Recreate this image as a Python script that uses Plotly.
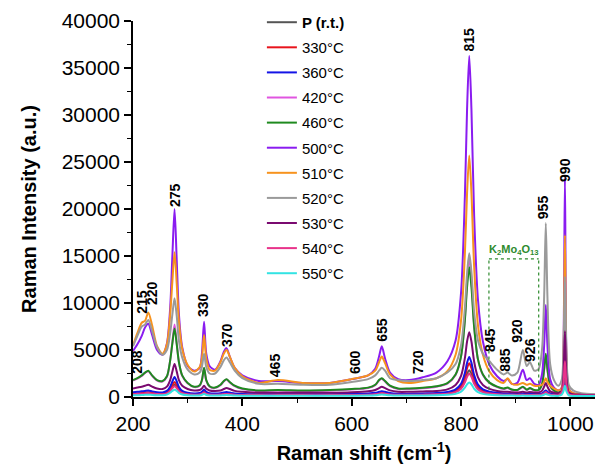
import plotly.graph_objects as go

# ---- data ----
wavenumber = [200, 208, 216, 222, 228, 235, 244, 254, 262, 268,
              272, 276, 280, 284, 290, 300, 312, 322, 326, 330,
              334, 340, 350, 360, 366, 371, 377, 386, 400, 430,
              465, 510, 560, 600, 630, 643, 650, 655, 661, 670,
              685, 705, 730, 755, 775, 790, 800, 807, 811, 815,
              819, 824, 831, 840, 852, 866, 878, 885, 893, 903,
              913, 920, 926, 934, 942, 948, 952, 955, 958, 963,
              970, 978, 984, 987, 990, 993, 997, 1005, 1020, 1045]

p_rt = [300, 320, 350, 390, 420, 360, 310, 300, 400, 700,
        1050, 1300, 1050, 680, 430, 300, 260, 280, 360, 500,
        360, 270, 250, 270, 320, 340, 310, 260, 230, 210,
        210, 210, 210, 230, 260, 300, 370, 410, 370, 280,
        240, 240, 270, 300, 380, 580, 1000, 1750, 2450, 2850,
        2450, 1600, 900, 560, 400, 310, 270, 270, 250, 240,
        260, 230, 240, 220, 230, 280, 420, 550, 420, 270,
        220, 200, 600, 1500, 4500, 1500, 350, 180, 160, 150]

t330 = [350, 380, 420, 470, 500, 430, 370, 360, 480, 820,
        1250, 1600, 1250, 800, 500, 350, 300, 330, 420, 600,
        420, 310, 290, 310, 370, 400, 360, 300, 260, 240,
        240, 240, 240, 260, 300, 350, 430, 480, 430, 330,
        270, 270, 305, 335, 430, 660, 1170, 2150, 3060, 3600,
        3060, 1950, 1090, 660, 460, 350, 300, 300, 270, 260,
        280, 250, 260, 240, 250, 300, 420, 520, 420, 290,
        240, 220, 400, 800, 2500, 800, 280, 200, 180, 160]

t360 = [500, 550, 600, 650, 700, 600, 500, 480, 650, 1100,
        1650, 2130, 1650, 1050, 650, 450, 380, 420, 550, 800,
        550, 400, 370, 400, 480, 520, 470, 380, 330, 300,
        300, 300, 300, 330, 380, 450, 550, 620, 550, 420,
        350, 350, 385, 420, 540, 820, 1410, 2560, 3630, 4260,
        3630, 2330, 1320, 820, 570, 440, 380, 380, 340, 330,
        360, 320, 330, 310, 320, 380, 550, 700, 550, 380,
        300, 280, 500, 900, 2400, 900, 300, 220, 200, 180]

t420 = [1750, 1950, 2250, 2550, 2750, 2250, 1750, 1650, 2150, 3900,
        5850, 7700, 5700, 3700, 2250, 1450, 1050, 1200, 1750, 3050,
        1750, 1100, 950, 1250, 1650, 1850, 1550, 1150, 850, 650,
        700, 650, 700, 800, 950, 1250, 1750, 1950, 1650, 1150,
        850, 850, 930, 1100, 1430, 2350, 4300, 8300, 12300, 15000,
        12400, 7600, 3950, 2350, 1480, 1050, 850, 950, 750, 700,
        1050, 750, 900, 700, 700, 1300, 2900, 4400, 2900, 1150,
        650, 450, 650, 1450, 3400, 1450, 450, 250, 200, 150]

t460 = [1800, 2000, 2300, 2600, 2800, 2300, 1800, 1700, 2200, 3900,
        5700, 7300, 5600, 3700, 2300, 1500, 1100, 1250, 1800, 3100,
        1800, 1150, 1000, 1300, 1700, 1900, 1600, 1200, 900, 700,
        750, 700, 750, 850, 1000, 1300, 1800, 2000, 1700, 1200,
        900, 900, 980, 1140, 1475, 2400, 4340, 8160, 11700, 13800,
        11700, 7400, 4000, 2400, 1530, 1100, 900, 1000, 800, 750,
        1100, 800, 950, 750, 750, 1350, 3000, 4600, 3000, 1200,
        700, 500, 700, 1500, 3500, 1500, 500, 300, 250, 200]

t500 = [4900, 5600, 6500, 7400, 7800, 6600, 5000, 4500, 5700, 9500,
        15000, 20000, 14500, 8800, 5300, 3300, 2800, 3100, 4600, 8000,
        4600, 3300, 2900, 3800, 4800, 5200, 4300, 3100, 2300, 1700,
        1700, 1500, 1500, 1900, 2300, 3000, 4300, 5400, 4100, 2600,
        1900, 1800, 2100, 2600, 3800, 6000, 11100, 21300, 30600, 36300,
        30600, 19200, 10300, 5900, 3400, 2200, 1700, 1900, 1400, 1500,
        2900, 1800, 2000, 1400, 1300, 2400, 5500, 9800, 5500, 1900,
        1000, 700, 1000, 4000, 23300, 4000, 900, 400, 300, 250]

t510 = [5500, 6800, 7900, 8100, 9000, 7600, 5400, 4600, 5600, 8800,
        12300, 15400, 12000, 8000, 5100, 3400, 2700, 3200, 4100, 6600,
        4100, 2900, 2800, 3700, 4600, 5000, 4300, 3100, 2200, 1500,
        1800, 1500, 1500, 1900, 2300, 2800, 3700, 4300, 3600, 2400,
        1700, 1500, 1700, 2000, 2750, 4500, 8150, 15200, 21700, 25700,
        21700, 13800, 7600, 4500, 2700, 1800, 1500, 2000, 1400, 1300,
        1500, 1300, 1400, 1200, 1200, 1300, 1600, 2000, 1600, 1200,
        900, 700, 900, 3500, 17200, 3500, 800, 400, 300, 250]

t520 = [5400, 6500, 7500, 7700, 8200, 7000, 5300, 4500, 5000, 6800,
        8800, 10500, 8600, 6000, 4200, 2900, 2400, 2600, 3200, 4600,
        3200, 2500, 2500, 3200, 3900, 4200, 3700, 2800, 2000, 1400,
        1400, 1300, 1300, 1600, 1900, 2300, 2800, 3100, 2800, 2000,
        1800, 1700, 1800, 2000, 2600, 3500, 5500, 9450, 13100, 15300,
        13300, 9000, 6000, 4600, 3800, 2900, 2400, 2600, 2300, 2600,
        5000, 3300, 3700, 2800, 3000, 5000, 10700, 18500, 10700, 3500,
        1800, 1200, 1800, 4200, 12800, 4200, 1300, 700, 400, 300]

t530 = [900, 1000, 1100, 1200, 1300, 1100, 900, 850, 1100, 1800,
        2700, 3500, 2700, 1800, 1200, 850, 700, 750, 900, 1200,
        900, 700, 650, 700, 850, 950, 850, 650, 550, 450,
        450, 450, 450, 500, 600, 750, 950, 1100, 950, 700,
        550, 550, 590, 640, 810, 1285, 2250, 4130, 5900, 6900,
        5900, 3750, 2090, 1285, 860, 640, 550, 560, 500, 480,
        550, 480, 520, 470, 480, 650, 1100, 1500, 1100, 600,
        450, 400, 600, 2000, 7000, 2000, 500, 300, 250, 200]

t540 = [300, 320, 350, 380, 420, 360, 310, 300, 380, 650,
        950, 1150, 950, 620, 400, 290, 250, 270, 340, 480,
        340, 260, 240, 260, 300, 330, 300, 250, 220, 200,
        200, 200, 200, 220, 250, 290, 350, 390, 350, 270,
        230, 230, 250, 280, 350, 520, 880, 1550, 2150, 2500,
        2150, 1400, 800, 510, 370, 290, 250, 250, 230, 220,
        240, 210, 220, 200, 210, 260, 400, 520, 400, 250,
        200, 190, 500, 1200, 3800, 1200, 300, 180, 160, 150]

t550 = [180, 190, 210, 230, 250, 220, 190, 180, 250, 450,
        650, 780, 650, 420, 270, 190, 160, 170, 220, 330,
        220, 170, 150, 160, 190, 210, 190, 160, 140, 130,
        130, 130, 130, 140, 160, 190, 230, 260, 230, 180,
        150, 150, 160, 180, 230, 330, 560, 1000, 1350, 1550,
        1350, 880, 520, 330, 240, 190, 160, 160, 150, 140,
        150, 140, 140, 130, 135, 170, 250, 330, 250, 160,
        130, 120, 250, 550, 1200, 550, 180, 110, 100, 100]

series_names = ["<b>P (r.t.)</b>", "330°C", "360°C", "420°C", "460°C", "500°C",
                "510°C", "520°C", "530°C", "540°C", "550°C"]
series_values = [p_rt, t330, t360, t420, t460, t500, t510, t520, t530, t540, t550]
series_colors = ["#555555", "#E8141C", "#1414E6", "#E055E0", "#1F8A1F", "#8A1CF0",
                 "#F7931E", "#9A9A9A", "#7A0A70", "#E8338A", "#33E3E3"]

peak_labels = ["208", "215", "220", "275", "330", "370", "465", "600", "655",
               "720", "815", "845", "885", "920", "926", "955", "990"]
peak_label_x = [207, 216, 235, 277, 328, 372, 460, 606, 655,
                721, 814, 853, 880, 902, 926, 950, 990]
peak_label_y = [3720, 10100, 11070, 21500, 9790, 6600, 3400, 3720, 7130,
                3720, 38000, 6070, 3940, 7020, 5000, 20200, 24150]

box_x = [851, 942]
box_y = [800, 14700]
box_label = "K<sub>2</sub>Mo<sub>4</sub>O<sub>13</sub>"

FONT = "Liberation Sans, Arial, sans-serif"

fig = go.Figure()
for name, vals, col in zip(series_names, series_values, series_colors):
    fig.add_trace(go.Scatter(
        x=wavenumber, y=vals, mode="lines", name=name, legendgroup=name,
        line=dict(color=col, width=2, shape="spline", smoothing=0.8),
    ))

for t, xv, yv in zip(peak_labels, peak_label_x, peak_label_y):
    fig.add_annotation(x=xv, y=yv, text="<b>%s</b>" % t, textangle=-90,
                       showarrow=False, xanchor="center", yanchor="middle",
                       font=dict(family=FONT, size=14, color="black"))

green_dash = dict(color="#2E8B2E", width=1.2, dash="dot")
fig.add_shape(type="line", x0=box_x[0], x1=box_x[0], y0=box_y[0], y1=box_y[1], line=green_dash)
fig.add_shape(type="line", x0=box_x[0], x1=box_x[1], y0=box_y[1], y1=box_y[1], line=green_dash)
fig.add_shape(type="line", x0=box_x[1], x1=box_x[1], y0=box_y[0], y1=box_y[1], line=green_dash)
fig.add_annotation(x=(box_x[0] + box_x[1]) / 2, y=box_y[1], text="<b>%s</b>" % box_label,
                   showarrow=False, xanchor="center", yanchor="bottom",
                   font=dict(family=FONT, size=11, color="#2E8B2E"))

fig.update_layout(
    width=595, height=471,
    margin=dict(l=133, r=0, t=21, b=74),
    paper_bgcolor="white", plot_bgcolor="white",
    font=dict(family=FONT, color="black"),
    showlegend=True,
    legend=dict(x=0.279, y=1.04, xanchor="left", yanchor="top", maxheight=400,
                bgcolor="rgba(0,0,0,0)", font=dict(family=FONT, size=15, color="black"),
                tracegroupgap=2.6, traceorder="grouped"),
    xaxis=dict(range=[200, 1045], tickvals=[200, 400, 600, 800, 1000],
               ticks="outside", ticklen=7, tickwidth=1.5, tickcolor="black",
               minor=dict(dtick=100, tick0=200, ticks="outside", ticklen=4, tickwidth=1.2, tickcolor="black"),
               showline=True, linecolor="black", linewidth=1.5, showgrid=False, zeroline=False,
               tickfont=dict(family=FONT, size=21),
               title=dict(text="<b>Raman shift (cm<sup>-1</sup>)</b>", font=dict(family=FONT, size=20), standoff=12)),
    yaxis=dict(range=[0, 40000], dtick=5000, tick0=0, tickformat="d",
               ticks="outside", ticklen=7, tickwidth=1.5, tickcolor="black",
               minor=dict(dtick=2500, ticks="outside", ticklen=4, tickwidth=1.2, tickcolor="black"),
               showline=True, linecolor="black", linewidth=1.5, showgrid=False, zeroline=False,
               tickfont=dict(family=FONT, size=21),
               title=dict(text="<b>Raman Intensity (a.u.)</b>", font=dict(family=FONT, size=20), standoff=20)),
)

fig.write_html("out.html")
